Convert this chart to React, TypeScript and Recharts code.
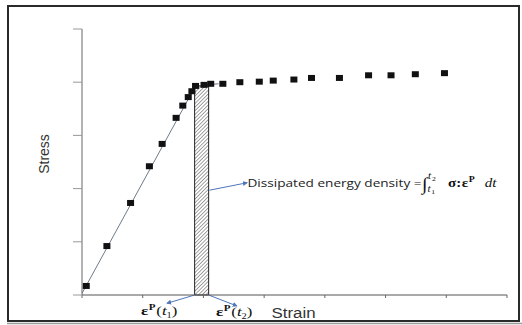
import React from "react";
import {
  ComposedChart,
  Scatter,
  Line,
  XAxis,
  YAxis,
  ReferenceArea,
  ReferenceLine,
} from "recharts";

// measured stress–strain points
const strain = [
  0.07, 0.41, 0.8, 1.11, 1.32, 1.55, 1.66, 1.75, 1.81, 1.87, 2.01, 2.12, 2.32,
  2.6, 2.92, 3.15, 3.49, 3.78, 4.24, 4.72, 5.09, 5.49, 5.97,
];
const stress = [
  0.17, 0.92, 1.73, 2.42, 2.84, 3.33, 3.56, 3.72, 3.83, 3.93, 3.95, 3.97, 3.97,
  4.0, 4.01, 4.03, 4.05, 4.08, 4.08, 4.13, 4.13, 4.15, 4.17,
];

// elastic fit running into the yield plateau
const fitStrain = [0, 1.86, 2.02, 2.25];
const fitStress = [0.03, 3.91, 3.95, 3.97];

const strainTicks = [0, 1, 2, 3, 4, 5, 6, 7];
const stressTicks = [0, 1, 2, 3, 4, 5];

// plastic strain window between t1 and t2, shaded up to the yield stress
const epsT1 = 1.855;
const epsT2 = 2.086;
const bandTop = 3.93;

const points = strain.map((x, i) => ({ x, y: stress[i] }));
const fit = fitStrain.map((x, i) => ({ x, y: fitStress[i] }));

const ARROW = "#4f75bb";

const Square = (props: any) => (
  <rect x={props.cx - 3.5} y={props.cy - 3} width={7} height={6} fill="#111" />
);

// axes keep their tick marks but carry no numbers
const NoLabel = () => <g />;

// text drawn wider than its font, like the rest of the figure
const Wide = ({ x, y, sx = 1.25, children }: any) => (
  <g transform={`translate(${x} ${y}) scale(${sx} 1)`}>{children}</g>
);

const serif = "Liberation Serif";

const EpsLabel = ({ x, y, sub }: { x: number; y: number; sub: string }) => (
  <Wide x={x} y={y} sx={1.3}>
    <text x={0} y={0} fontFamily={serif} fontSize={13} fill="#111">
      <tspan fontWeight="bold">ε</tspan>
      <tspan fontWeight="bold" fontSize={8.5} dy={-5} dx={0.5}>
        P
      </tspan>
      <tspan dy={5} dx={0.5}>(</tspan>
      <tspan fontStyle="italic">t</tspan>
      <tspan fontSize={8} dy={2.5}>
        {sub}
      </tspan>
      <tspan dy={-2.5}>)</tspan>
    </text>
  </Wide>
);

export default function App() {
  return (
    <div style={{ position: "absolute", left: 0, top: 0 }}>
      <ComposedChart
        width={522}
        height={325}
        margin={{ top: 29, right: 15, bottom: 29, left: 81 }}
      >
        <defs>
          <pattern
            id="hatch"
            patternUnits="userSpaceOnUse"
            width={2.6}
            height={2.6}
            patternTransform="rotate(45)"
          >
            <rect width={2.6} height={2.6} fill="#fff" />
            <line x1={0} y1={0} x2={0} y2={2.6} stroke="#444" strokeWidth={1} />
          </pattern>
          <marker
            id="arrowhead"
            viewBox="0 0 6 6"
            refX={5}
            refY={3}
            markerWidth={5}
            markerHeight={5}
            orient="auto"
          >
            <path d="M0,0 L6,3 L0,6 z" fill={ARROW} />
          </marker>
        </defs>

        <rect x={8} y={6} width={511} height={315} fill="none" stroke="#2a2a2a" strokeWidth={2} />
        <line x1={7} y1={323.5} x2={522} y2={323.5} stroke="#9a9a9a" strokeWidth={1.5} />

        <XAxis
          type="number"
          dataKey="x"
          domain={[0, 7]}
          ticks={strainTicks}
          tick={NoLabel}
          tickSize={3}
          height={1}
          axisLine={{ stroke: "#555" }}
          tickLine={{ stroke: "#666" }}
          allowDataOverflow
        />
        <YAxis
          type="number"
          dataKey="y"
          domain={[0, 5]}
          ticks={stressTicks}
          tick={NoLabel}
          tickSize={9}
          width={1}
          axisLine={{ stroke: "#666" }}
          tickLine={{ stroke: "#999" }}
          allowDataOverflow
        />

        <Line
          data={fit}
          dataKey="y"
          type="linear"
          stroke="#6d7b8a"
          strokeWidth={1}
          dot={false}
          isAnimationActive={false}
        />
        <ReferenceArea
          x1={epsT1}
          x2={epsT2}
          y1={0}
          y2={bandTop}
          fill="url(#hatch)"
          fillOpacity={1}
          stroke="#222"
          strokeWidth={1}
          ifOverflow="visible"
        />
        <Scatter data={points} shape={Square} isAnimationActive={false} />

        <ReferenceLine
          segment={[
            { x: epsT1, y: 0 },
            { x: 1.4, y: -0.156 },
          ]}
          stroke={ARROW}
          strokeWidth={1}
          markerEnd="url(#arrowhead)"
          ifOverflow="visible"
        />
        <ReferenceLine
          segment={[
            { x: epsT2, y: 0 },
            { x: 2.55, y: -0.206 },
          ]}
          stroke={ARROW}
          strokeWidth={1}
          markerEnd="url(#arrowhead)"
          ifOverflow="visible"
        />
        <ReferenceLine
          segment={[
            { x: 2.1, y: 1.97 },
            { x: 2.72, y: 2.11 },
          ]}
          stroke={ARROW}
          strokeWidth={1}
          markerEnd="url(#arrowhead)"
          ifOverflow="visible"
        />

        <text
          x={0}
          y={0}
          transform="translate(49 154) rotate(-90)"
          textAnchor="middle"
          fontFamily="Liberation Sans"
          fontSize={14}
          fill="#333"
        >
          Stress
        </text>
        <text
          x={271.5}
          y={318}
          fontFamily="Liberation Sans"
          fontSize={14}
          textLength={44}
          lengthAdjust="spacingAndGlyphs"
          fill="#333"
        >
          Strain
        </text>

        <EpsLabel x={141} y={315} sub="1" />
        <EpsLabel x={216} y={316} sub="2" />

        <text
          x={247.5}
          y={187}
          fontFamily="Open Sans"
          fontSize={11}
          textLength={174}
          lengthAdjust="spacingAndGlyphs"
          fill="#222"
        >
          Dissipated energy density =
        </text>
        <Wide x={422} y={190} sx={1.1}>
          <text x={0} y={0} fontFamily={serif} fontStyle="italic" fontSize={18} fill="#111">
            ∫
          </text>
          <text x={5.5} y={-11} fontFamily={serif} fontStyle="italic" fontSize={10} fill="#111">
            t
          </text>
          <text x={9} y={-9.5} fontFamily={serif} fontSize={7} fill="#111">
            2
          </text>
          <text x={5} y={2} fontFamily={serif} fontStyle="italic" fontSize={10} fill="#111">
            t
          </text>
          <text x={8.5} y={4} fontFamily={serif} fontSize={7} fill="#111">
            1
          </text>
        </Wide>
        <Wide x={448} y={187} sx={1.15}>
          <text x={0} y={0} fontFamily={serif} fontWeight="bold" fontSize={13} fill="#111">
            σ:
          </text>
          <text x={12} y={0} fontFamily={serif} fontWeight="bold" fontSize={13} fill="#111">
            ε
          </text>
          <text x={18} y={-5} fontFamily={serif} fontWeight="bold" fontSize={8.5} fill="#111">
            P
          </text>
          <text x={32} y={0} fontFamily={serif} fontStyle="italic" fontSize={13} fill="#111">
            dt
          </text>
        </Wide>
      </ComposedChart>
    </div>
  );
}
